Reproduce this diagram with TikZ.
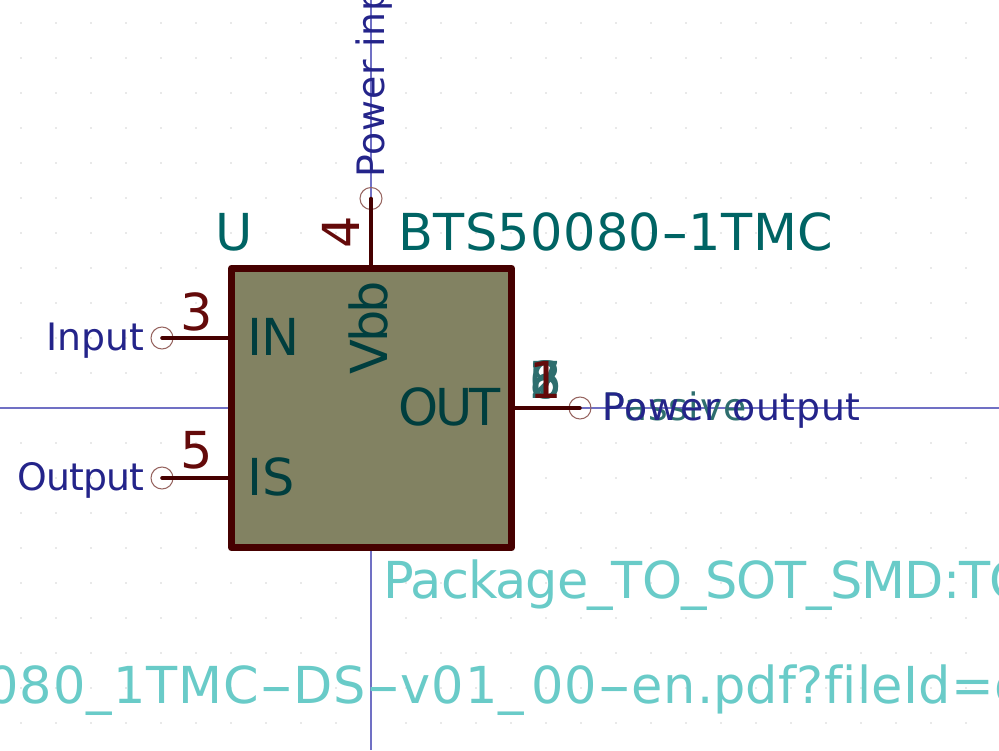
\documentclass[tikz,border=0pt]{standalone}
\usepackage{graphicx}
\usepackage{fontspec}
\setmainfont{DejaVu Sans}
\definecolor{kiaxis}{RGB}{112,112,196}
\definecolor{kibody}{RGB}{130,130,98}
\definecolor{kiline}{RGB}{70,0,0}
\definecolor{kinum}{RGB}{100,10,10}
\definecolor{kiname}{RGB}{0,62,62}
\definecolor{kiref}{RGB}{0,100,100}
\definecolor{kifoot}{RGB}{105,203,200}
\definecolor{kilabel}{RGB}{36,36,138}
\definecolor{kihide}{RGB}{46,110,110}
\definecolor{kiend}{RGB}{150,100,95}
\tikzset{
	chipbox/.style={rectangle, draw=kiline, fill=kibody, line width=4pt, line join=round, minimum width=5.6cm, minimum height=5.6cm, inner sep=0pt},
	pinline/.style={kiline, line width=2pt, line cap=round},
	pinend/.style={circle, draw=kiend, line width=0.6pt, minimum size=0.44cm, inner sep=0pt},
	pintext/.style={anchor=base west, inner sep=0pt, font=\fontsize{29}{29}\selectfont},
	smalltext/.style={anchor=base west, inner sep=0pt, font=\fontsize{21.5}{21.5}\selectfont, text=kilabel}
}
\newfontfamily\tightfont[LetterSpace=-6]{DejaVu Sans}
\newfontfamily\snugfont[LetterSpace=-2.5]{DejaVu Sans}
\newfontfamily\slimfont[LetterSpace=-2]{DejaVu Sans}
\newfontfamily\widefont[LetterSpace=2,Ligatures=NoCommon]{DejaVu Sans}
\newfontfamily\mildfont[LetterSpace=0.7,Ligatures=NoCommon]{DejaVu Sans}
\newcommand{\longdash}{\scalebox{1.87}[1]{-}}

\begin{document}
\begin{tikzpicture}[x=0.02cm,y=-0.02cm]
	\useasboundingbox (0,0) rectangle (999,750);
	\clip (0,0) rectangle (999,750);
	% grid
	\foreach \i in {-10,...,18}
		\foreach \j in {-11,...,9}
			\fill [gray!35] (371+35*\i,408+35*\j) circle (0.5pt);
	% axes
	\draw [kiaxis,line width=0.6pt] (0,408)-- (999,408);
	\draw [kiaxis,line width=0.6pt] (371,0)-- (371,750);

	\node[chipbox] (chip) at (371.5,408) {};

	% pins
	\node[pinend] (endthree) at (162,338) {};
	\node[pinend] (endfive) at (162,478) {};
	\node[pinend] (endone) at (580,408) {};
	\node[pinend] (endfour) at (371,198.5) {};
	\draw [pinline] (endthree.center)-- (chip.west |- endthree);
	\draw [pinline] (endfive.center)-- (chip.west |- endfive);
	\draw [pinline] (endone.center)-- (chip.east |- endone);
	\draw [pinline] (endfour.center)-- (chip.north -| endfour);

	% pin numbers
	\node[pintext,text=kinum] (numthree) at (180,330) {3};
	\node[pintext,text=kinum] (numfive) at (180,468) {5};
	\node[pintext,text=kinum,rotate=90] (numfour) at (359,249) {4};
	\node[pintext,text=kihide] (numtwo) at (529,398) {2};
	\node[pintext,text=kihide] (numsix) at (529,398) {6};
	\node[pintext,text=kihide] (numseven) at (529,398) {7};
	\node[pintext,text=kihide] (numeight) at (529,398) {8};
	\node[pintext,text=kinum] (numone) at (529,398) {1};

	% pin names
	\node[pintext,text=kiname] (namein) at (247,355) {\snugfont IN};
	\node[pintext,text=kiname] (nameis) at (247,495) {IS};
	\node[pintext,text=kiname] (nameout) at (398,425) {\tightfont OUT};
	\node[pintext,text=kiname,rotate=90] (namevbb) at (387,375) {\tightfont Vbb};

	% pin types
	\node[smalltext] (labelinput) at (46.5,350) {Input};
	\node[smalltext] (labeloutput) at (17,490) {\snugfont Output};
	\node[smalltext,text=kihide] (labelpassive) at (602,420) {\widefont Passive};
	\node[smalltext] (labelpower) at (602,420) {\widefont Power output};
	\node[smalltext,rotate=90] (labelinpower) at (384,178) {\widefont Power input};

	% fields
	\node[pintext,text=kiref] (fieldref) at (215,250) {U};
	\node[pintext,text=kiref] (fieldvalue) at (398,250) {\mildfont BTS50080\scalebox{1.5}[1]{-}1TMC};
	\node[pintext,text=kifoot] (fieldfoot) at (383,598) {\slimfont Package\_TO\_SOT\_SMD:TO};
	\node[pintext,text=kifoot] (fieldsheet) at (-14,703) {\widefont 080\_1TMC\longdash DS\longdash v01\_\kern4pt 00\longdash en.{\mildfont pdf?fileId=d}};
\end{tikzpicture}
\end{document}
